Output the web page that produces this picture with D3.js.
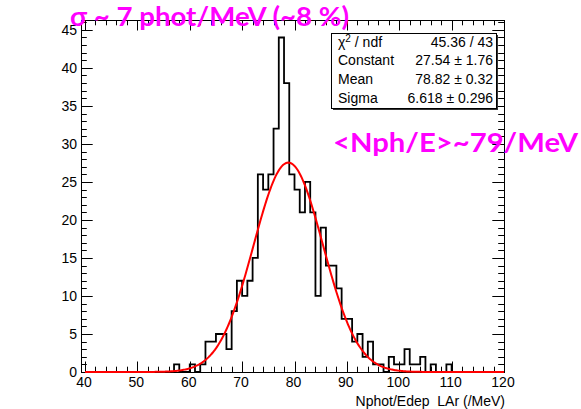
<!DOCTYPE html>
<html>
<head>
<meta charset="utf-8">
<script src="https://cdn.jsdelivr.net/npm/d3@7"></script>
<style>
  html, body { margin: 0; padding: 0; background: #fff; }
  svg { display: block; }
  text { font-family: "Liberation Sans", Arial, Helvetica, sans-serif; }
  text.note { font-family: Lato, "Open Sans", sans-serif; font-weight: bold; }
</style>
</head>
<body>
<svg id="chart" width="581" height="409"></svg>
<script>
// Histogram: 1 /MeV bins starting at 40
const binStart = 40;
const binWidth = 1;
const counts = [
  0, 0, 0, 0, 0, 0, 0, 0, 0, 0,      // 40-49
  0, 0, 0, 0, 0, 0, 0, 1, 0, 0,      // 50-59
  1, 0, 1, 4, 4, 5, 5, 3, 8, 12,     // 60-69
  10, 12, 15, 26, 24, 26, 32, 44, 38, 26, // 70-79
  24, 21, 25, 21, 10, 19, 14, 14, 11, 7,  // 80-89
  7, 4, 5, 2, 4, 1, 1, 0, 2, 1,      // 90-99
  1, 3, 1, 1, 2, 0, 1, 0, 0, 1,      // 100-109
  0, 0, 0, 0, 0, 0, 0, 0, 0, 0       // 110-119
];

// Gaussian fit result
const fitConstant = 27.54;
const fitMean = 78.82;
const fitSigma = 6.618;

// Axis ticks
const xMajorTicks = [40, 50, 60, 70, 80, 90, 100, 110, 120];
const yMajorTicks = [0, 5, 10, 15, 20, 25, 30, 35, 40, 45];

// Statistics box rows
const statNames = ["χ2 / ndf", "Constant", "Mean", "Sigma"];
const statValues = ["45.36 / 43", "27.54 ± 1.76", "78.82 ± 0.32", "6.618 ± 0.296"];

const xTitle = "Nphot/Edep  LAr (/MeV)";
const noteWidth = "σ ~ 7 phot/MeV (~8 %)";
const noteMean = "<Nph/E>~79/MeV";

const svg = d3.select("#chart");

// frame box
const frame = { left: 81, right: 504, top: 20, bottom: 372 };

const x = d3.scaleLinear().domain([40, 120]).range([85, 504]);
const y = d3.scaleLinear().domain([0, 46.3]).range([frame.bottom, frame.top]);

// frame outline
svg.append("rect")
  .attr("x", frame.left + 0.5).attr("y", frame.top + 0.5)
  .attr("width", frame.right - frame.left).attr("height", frame.bottom - frame.top)
  .attr("fill", "none").attr("stroke", "#000").attr("stroke-width", 1);

// ticks
const ticksG = svg.append("g").attr("stroke", "#000").attr("stroke-width", 1);
const xMinor = d3.range(40, 120.001, 2);
xMinor.forEach(v => {
  const major = xMajorTicks.includes(v);
  const len = major ? 10.5 : 5.3;
  const px = Math.round(x(v)) + 0.5;
  ticksG.append("line").attr("x1", px).attr("x2", px)
    .attr("y1", frame.bottom).attr("y2", frame.bottom - len);
  ticksG.append("line").attr("x1", px).attr("x2", px)
    .attr("y1", frame.top).attr("y2", frame.top + len);
});
const yMinor = d3.range(0, 46.001, 1);
yMinor.forEach(v => {
  const major = yMajorTicks.includes(v);
  const len = major ? 11.7 : 5.8;
  const py = Math.round(y(v)) + 0.5;
  ticksG.append("line").attr("y1", py).attr("y2", py)
    .attr("x1", frame.left).attr("x2", frame.left + len);
  ticksG.append("line").attr("y1", py).attr("y2", py)
    .attr("x1", frame.right).attr("x2", frame.right - len);
});

// tick labels
svg.append("g").selectAll("text").data(xMajorTicks).join("text")
  .attr("x", d => x(d) - 1).attr("y", 387)
  .attr("text-anchor", "middle").attr("font-size", 14).attr("fill", "#000")
  .text(d => d);
svg.append("g").selectAll("text").data(yMajorTicks).join("text")
  .attr("x", 77).attr("y", d => y(d) + 5)
  .attr("text-anchor", "end").attr("font-size", 14).attr("fill", "#000")
  .text(d => d);

// x axis title
svg.append("text")
  .attr("x", 505).attr("y", 406)
  .attr("text-anchor", "end").attr("font-size", 14)
  .style("white-space", "pre").attr("xml:space", "preserve")
  .text(xTitle);

// histogram outline
const path = d3.path();
path.moveTo(x(binStart), y(0));
counts.forEach((c, i) => {
  const lo = binStart + i * binWidth, hi = lo + binWidth;
  path.lineTo(x(lo), y(c));
  path.lineTo(x(hi), y(c));
});
path.lineTo(x(binStart + counts.length * binWidth), y(0));
svg.append("path").attr("d", path.toString())
  .attr("fill", "none").attr("stroke", "#000").attr("stroke-width", 1.8);

// fitted gaussian
const gauss = v => fitConstant * Math.exp(-0.5 * Math.pow((v - fitMean) / fitSigma, 2));
const curvePts = d3.range(40, 120.001, 0.2).map(v => [v, gauss(v)]);
svg.append("path")
  .datum(curvePts)
  .attr("d", d3.line().x(d => x(d[0])).y(d => y(d[1])))
  .attr("fill", "none").attr("stroke", "#ff0000").attr("stroke-width", 2);

// statistics box
const box = { x: 331.5, y: 33.5, w: 165, h: 75 };
svg.append("rect").attr("x", box.x + 1.5).attr("y", box.y + 1.5)
  .attr("width", box.w).attr("height", box.h).attr("fill", "#333");
svg.append("rect").attr("x", box.x).attr("y", box.y)
  .attr("width", box.w).attr("height", box.h)
  .attr("fill", "#fff").attr("stroke", "#000").attr("stroke-width", 1);
const rowBase = [46.5, 65.2, 83.9, 102.6];
statNames.forEach((name, i) => {
  const t = svg.append("text").attr("x", 338).attr("y", rowBase[i]).attr("font-size", 14);
  if (name.startsWith("χ2")) {
    t.append("tspan").text("χ");
    t.append("tspan").attr("font-size", 10).attr("dy", -5).text("2");
    t.append("tspan").attr("dy", 5).text(" / ndf");
  } else {
    t.text(name);
  }
  svg.append("text").attr("x", 493).attr("y", rowBase[i])
    .attr("text-anchor", "end").attr("font-size", 14).text(statValues[i]);
});

// annotations
svg.append("text").attr("class", "note")
  .attr("x", 70).attr("y", 26)
  .attr("font-size", 26).attr("fill", "#ff00ff")
  .attr("textLength", 279).attr("lengthAdjust", "spacingAndGlyphs")
  .text(noteWidth);
svg.append("text").attr("class", "note")
  .attr("x", 333).attr("y", 152)
  .attr("font-size", 26).attr("fill", "#ff00ff")
  .attr("textLength", 245).attr("lengthAdjust", "spacingAndGlyphs")
  .text(noteMean);
</script>
</body>
</html>
